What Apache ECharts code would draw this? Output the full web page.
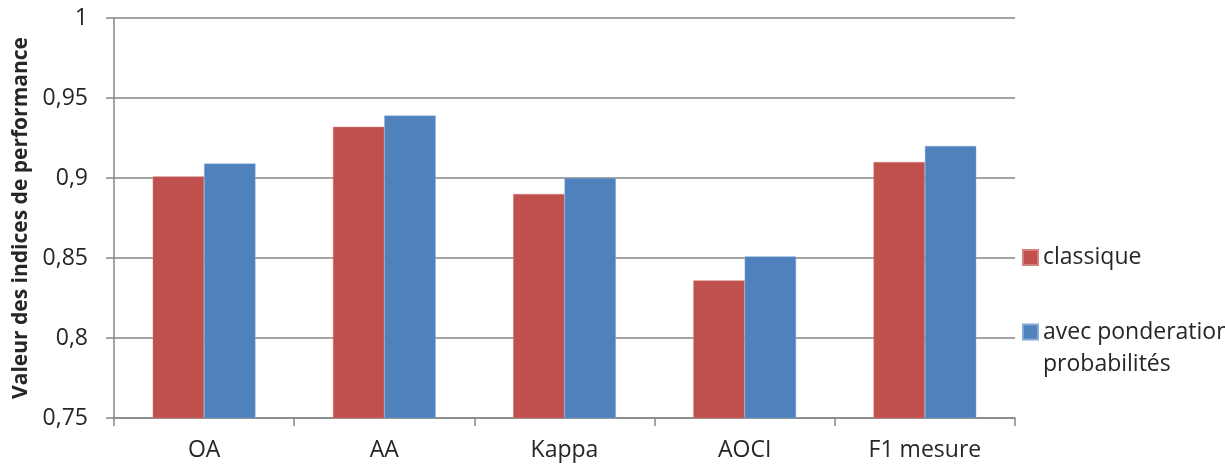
<!DOCTYPE html>
<html>
<head>
<meta charset="utf-8">
<script src="https://cdn.jsdelivr.net/npm/echarts@6/dist/echarts.min.js"></script>
<style>
  html, body { margin: 0; padding: 0; background: #fff; }
  #chart { width: 1225px; height: 469px; }
</style>
</head>
<body>
<div id="chart"></div>
<script>
var categories = ['OA', 'AA', 'Kappa', 'AOCI', 'F1 mesure'];
var classique = [0.901, 0.932, 0.890, 0.836, 0.910];
var ponderation = [0.909, 0.939, 0.900, 0.851, 0.920];
var seriesNames = ['classique', 'avec ponderation des probabilités'];

var myChart = echarts.init(document.getElementById('chart'));
var font = '"Open Sans", "Noto Sans", sans-serif';
var option = {
    animation: false,
    textStyle: { fontFamily: font },
    grid: { left: 114, right: 210, top: 18, bottom: 51, outerBoundsMode: 'none', containLabel: false },
    legend: [
        {
            data: [seriesNames[0]],
            left: 1022, top: 246, padding: 0,
            itemWidth: 15, itemHeight: 15,
            icon: 'rect',
            textStyle: { fontSize: 23, color: '#262626', fontFamily: font }
        },
        {
            data: [seriesNames[1]],
            left: 1022, top: 284, padding: 0,
            itemWidth: 15, itemHeight: 15,
            icon: 'rect',
            formatter: function () { return ' \navec ponderation des\nprobabilités'; },
            textStyle: { fontSize: 23, lineHeight: 32, color: '#262626', fontFamily: font }
        }
    ],
    xAxis: {
        type: 'category',
        data: categories,
        axisLine: { lineStyle: { color: '#868686', width: 1.5 } },
        axisTick: { show: true, length: 8, lineStyle: { color: '#868686', width: 1.5 } },
        axisLabel: { fontSize: 23, color: '#262626', margin: 21 }
    },
    yAxis: {
        type: 'value',
        min: 0.75, max: 1, interval: 0.05,
        name: 'Valeur des indices de performance',
        nameLocation: 'middle',
        nameGap: 80,
        nameTextStyle: { fontSize: 21, fontWeight: 'bold', color: '#262626' },
        axisLine: { show: true, lineStyle: { color: '#868686', width: 1.5 } },
        axisTick: { show: true, length: 8, lineStyle: { color: '#868686', width: 1.5 } },
        axisLabel: {
            fontSize: 23, color: '#262626', margin: 26,
            formatter: function (v) { return String(Number(v.toFixed(2))).replace('.', ','); }
        },
        splitLine: { lineStyle: { color: '#868686', width: 1.5 } }
    },
    series: [
        {
            name: seriesNames[0],
            type: 'bar',
            data: classique,
            barGap: '0%',
            barCategoryGap: '43%',
            itemStyle: { color: '#C0504D', borderColor: '#D4807E', borderWidth: 0.5 }
        },
        {
            name: seriesNames[1],
            type: 'bar',
            data: ponderation,
            itemStyle: { color: '#4F81BD', borderColor: '#86A8D6', borderWidth: 0.5 }
        }
    ]
};
myChart.setOption(option);
</script>
</body>
</html>
